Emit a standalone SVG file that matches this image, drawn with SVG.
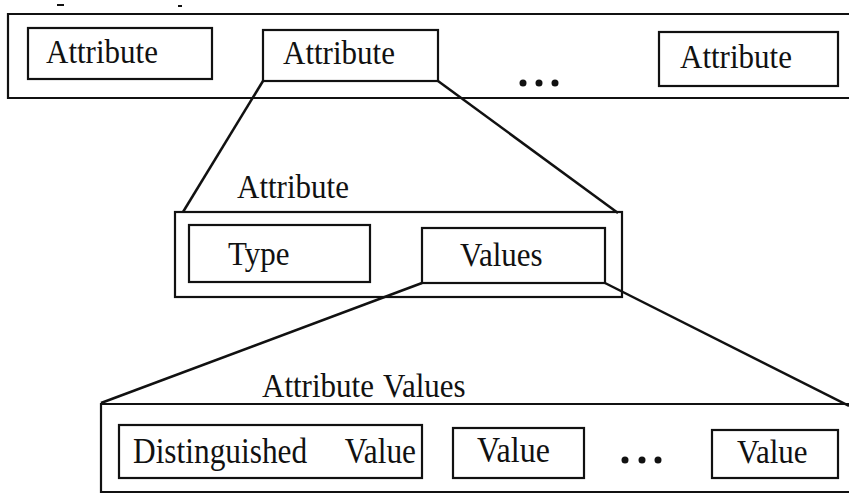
<svg xmlns="http://www.w3.org/2000/svg" width="849" height="493" viewBox="0 0 849 493">
  <style>
    .frame { fill: none; stroke: #111; stroke-width: 2.2; }
    .box { fill: none; stroke: #111; stroke-width: 2.2; }
    .link { stroke: #111; stroke-width: 2.5; fill: none; }
    .lbl { font-family: "Liberation Serif", "Times New Roman", serif; font-size: 31px; fill: #111; }
    .lbl-lg { font-size: 32px; }
    .dot { fill: #111; }
  </style>
  <rect width="849" height="493" fill="#fff"/>

  <!-- stray marks along the top edge -->
  <g id="edge-marks" stroke="#111" stroke-width="2">
    <line x1="57" y1="5" x2="64" y2="5"/>
    <line x1="178" y1="6" x2="182" y2="6"/>
  </g>

  <!-- top row: list of attributes -->
  <g id="attribute-list">
    <path class="frame" d="M849,14 H8 V98 H849"/>
    <g id="attr-1">
      <rect class="box" x="28" y="28" width="184" height="51"/>
      <text class="lbl" transform="translate(46,63) scale(1,1.1)">Attribute</text>
    </g>
    <g id="attr-2">
      <rect class="box" x="263" y="30" width="175" height="51"/>
      <text class="lbl" transform="translate(283,64) scale(1,1.1)">Attribute</text>
    </g>
    <g id="attr-ellipsis">
      <circle class="dot" cx="523" cy="83" r="3.5"/>
      <circle class="dot" cx="539" cy="83" r="3.5"/>
      <circle class="dot" cx="555" cy="83" r="3.5"/>
    </g>
    <g id="attr-3">
      <rect class="box" x="659" y="32" width="179" height="54"/>
      <text class="lbl" transform="translate(680,68) scale(1,1.1)">Attribute</text>
    </g>
  </g>

  <!-- middle: one attribute expanded -->
  <g id="attribute">
    <text class="lbl" transform="translate(237,198) scale(1,1.1)">Attribute</text>
    <rect class="box" x="175" y="212" width="447" height="85"/>
    <g id="type">
      <rect class="box" x="189" y="225" width="181" height="57"/>
      <text class="lbl" transform="translate(228,265) scale(1,1.1)">Type</text>
    </g>
    <g id="values">
      <rect class="box" x="422" y="228" width="183" height="55"/>
      <text class="lbl" transform="translate(460,266) scale(1,1.1)">Values</text>
    </g>
  </g>

  <!-- bottom: attribute values expanded -->
  <g id="attribute-values">
    <text class="lbl" transform="translate(262,397) scale(1,1.12)">Attribute<tspan x="121">Values</tspan></text>
    <path class="frame" d="M849,404 H101 V492 H849"/>
    <g id="distinguished-value">
      <rect class="box" x="119" y="425" width="303" height="53"/>
      <text class="lbl lbl-lg" transform="translate(133,463) scale(0.98,1.12)">Distinguished<tspan x="216">Value</tspan></text>
    </g>
    <g id="value-1">
      <rect class="box" x="453" y="428" width="131" height="50"/>
      <text class="lbl lbl-lg" transform="translate(477,462) scale(1,1.12)">Value</text>
    </g>
    <g id="value-ellipsis">
      <circle class="dot" cx="625" cy="460" r="3.5"/>
      <circle class="dot" cx="642" cy="460" r="3.5"/>
      <circle class="dot" cx="658" cy="460" r="3.5"/>
    </g>
    <g id="value-2">
      <rect class="box" x="712" y="430" width="126" height="48"/>
      <text class="lbl" transform="translate(737,463) scale(1,1.12)">Value</text>
    </g>
  </g>

  <!-- connectors: lines fanning out from a child box to its expanded view -->
  <g id="connectors">
    <line class="link" x1="263" y1="81" x2="183" y2="212"/>
    <line class="link" x1="438" y1="81" x2="618" y2="213"/>
    <line class="link" x1="422" y1="283" x2="101" y2="403"/>
    <line class="link" x1="605" y1="283" x2="849" y2="406"/>
  </g>
</svg>
